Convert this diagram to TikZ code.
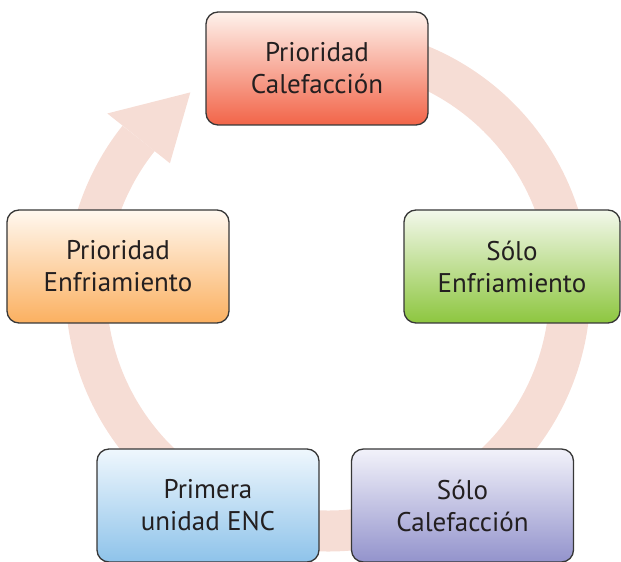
\documentclass[tikz,border=0pt]{standalone}
\usepackage{fontspec}
\setmainfont{PT Sans}
\usetikzlibrary{calc}
\definecolor{ringc}{RGB}{246,221,213}
\definecolor{edgec}{RGB}{55,55,55}
\definecolor{txtc}{RGB}{35,31,32}
\begin{document}
\begin{tikzpicture}[x=1bp,y=1bp,
  cbox/.style={draw=edgec, line width=1.3bp, rounded corners=12bp,
    minimum width=222bp, minimum height=113bp, align=center,
    text=txtc, font=\fontsize{27bp}{32bp}\selectfont, inner sep=0pt},
  redb/.style={cbox, top color={rgb,255:red,254;green,242;blue,236}, bottom color={rgb,255:red,242;green,100;blue,72}},
  orab/.style={cbox, top color={rgb,255:red,255;green,248;blue,240}, bottom color={rgb,255:red,251;green,176;blue,96}},
  greb/.style={cbox, top color={rgb,255:red,243;green,248;blue,235}, bottom color={rgb,255:red,141;green,198;blue,63}},
  blub/.style={cbox, top color={rgb,255:red,239;green,247;blue,253}, bottom color={rgb,255:red,142;green,195;blue,234}},
  purb/.style={cbox, top color={rgb,255:red,242;green,242;blue,250}, bottom color={rgb,255:red,147;green,147;blue,204}}
]
\useasboundingbox (0,0) rectangle (621,562);
\coordinate (c) at (328,273);
% ring arrow
\draw[ringc, line width=41bp] (c) ++(85:242) arc[start angle=85, end angle=-218.5, radius=242];
\coordinate (ho) at ($(c)+(141.5:282)$);
\coordinate (hi) at ($(c)+(141.5:202)$);
\coordinate (ht) at ($(c)+(125:240)$);
\fill[ringc] (ho) -- (ht) -- (hi) -- cycle;
% boxes
\node[redb] (pc) at (317,493.5) {Prioridad\\Calefacción};
\node[greb, minimum width=216bp] (se) at (512,295.5) {Sólo\\Enfriamiento};
\node[purb] (sc) at (462.5,56.5) {Sólo\\Calefacción};
\node[blub] (pu) at (208,56.5) {Primera\\unidad ENC};
\node[orab] (pe) at (118,295.5) {Prioridad\\Enfriamiento};
\end{tikzpicture}
\end{document}
